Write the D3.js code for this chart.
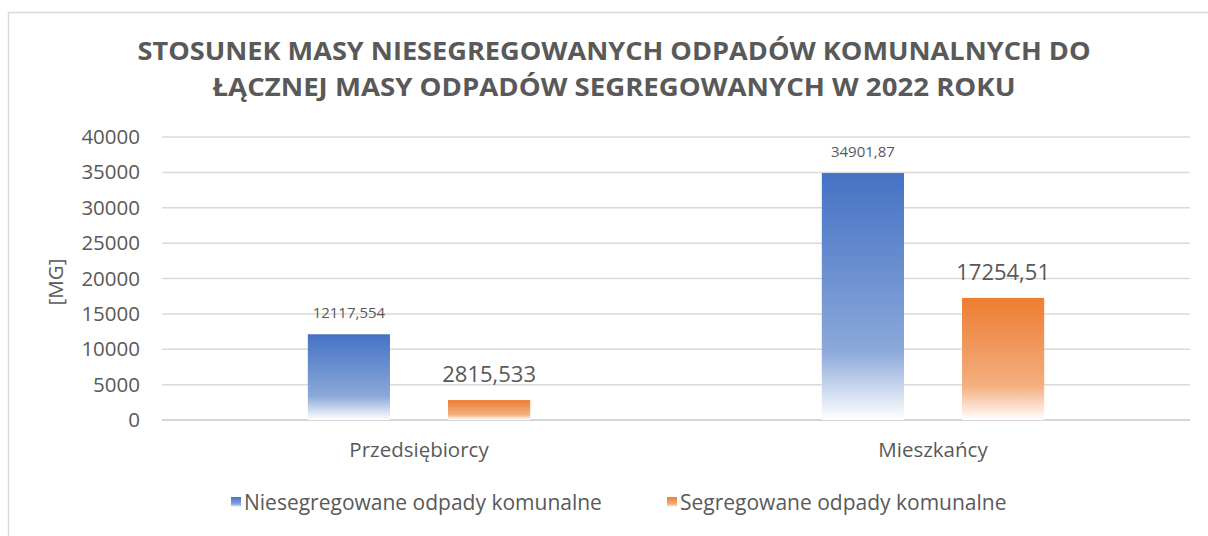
<!DOCTYPE html>
<html>
<head>
<meta charset="utf-8">
<script src="https://cdn.jsdelivr.net/npm/d3@7"></script>
<style>
  body { margin: 0; background: #fff; }
  text { font-family: "Open Sans", "Noto Sans", sans-serif; fill: #595959; }
</style>
</head>
<body>
<div class="chart"></div>
<script>
// data
const categories = ["Przedsiębiorcy", "Mieszkańcy"];
const seriesNames = ["Niesegregowane odpady komunalne", "Segregowane odpady komunalne"];
const unsegregated = [12117.554, 34901.87];
const segregated = [2815.533, 17254.51];
const unsegregatedLabels = ["12117,554", "34901,87"];
const segregatedLabels = ["2815,533", "17254,51"];
const yTicks = [0, 5000, 10000, 15000, 20000, 25000, 30000, 35000, 40000];
const titleLines = ["STOSUNEK MASY NIESEGREGOWANYCH ODPADÓW KOMUNALNYCH DO",
                    "ŁĄCZNEJ MASY ODPADÓW SEGREGOWANYCH W 2022 ROKU"];

const width = 1208, height = 536;
const margin = {left: 162, right: 18, top: 137, bottom: 116};

const svg = d3.select(".chart").append("svg")
    .attr("width", width)
    .attr("height", height);

// chart frame
svg.append("rect")
    .attr("x", 8.5).attr("y", 12.5)
    .attr("width", width + 20).attr("height", height + 20)
    .style("fill", "none")
    .style("stroke", "#d9d9d9")
    .style("stroke-width", 1.5);

const colors = ["#4472C4", "#ED7D31"];
const defs = svg.append("defs");
colors.forEach((c, i) => {
    const g = defs.append("linearGradient")
        .attr("id", "grad" + i)
        .attr("x1", 0).attr("y1", 0).attr("x2", 0).attr("y2", 1);
    const light = d3.interpolateRgb(c, "#ffffff")(0.38);
    g.append("stop").attr("offset", "0%").attr("stop-color", c);
    g.append("stop").attr("offset", "72%").attr("stop-color", light);
    g.append("stop").attr("offset", "100%").attr("stop-color", "#ffffff");
});

const yScale = d3.scaleLinear()
    .domain([0, 40000])
    .range([height - margin.bottom, margin.top]);

const xScale = d3.scaleBand()
    .domain(categories)
    .range([margin.left, width - margin.right]);

const xInner = d3.scaleBand()
    .domain([0, 1])
    .range([0, xScale.bandwidth()])
    .paddingInner(0.414)
    .paddingOuter(1.04);

// gridlines
svg.append("g")
    .selectAll("line")
    .data(yTicks)
    .join("line")
    .attr("x1", margin.left).attr("x2", width - margin.right)
    .attr("y1", d => yScale(d)).attr("y2", d => yScale(d))
    .style("stroke", d => d === 0 ? "#c8c8c8" : "#d9d9d9")
    .style("stroke-width", 1.5);

// y axis labels
const yAxis = d3.axisLeft(yScale).tickValues(yTicks).tickFormat(d3.format("d"))
    .tickSize(0).tickPadding(0);
const yg = svg.append("g")
    .attr("transform", "translate(" + 140 + ",0)")
    .call(yAxis);
yg.select(".domain").remove();
yg.selectAll("text")
    .style("font-size", "20.5px")
    .style("fill", "#595959");

// y axis title
svg.append("text")
    .attr("transform", "translate(56," + yScale(19500) + ") rotate(-90)")
    .attr("text-anchor", "middle")
    .attr("dy", "0.35em")
    .style("font-size", "20.5px")
    .text("[MG]");

// x axis labels
const xAxis = d3.axisBottom(xScale).tickSize(0).tickPadding(0);
const xg = svg.append("g")
    .attr("transform", "translate(0," + (yScale(0) + 22) + ")")
    .call(xAxis);
xg.select(".domain").remove();
xg.selectAll("text")
    .style("font-size", "20.5px")
    .style("fill", "#595959");

// bars
const series = [unsegregated, segregated];
const labels = [unsegregatedLabels, segregatedLabels];
const labelSize = ["15px", "22px"];
const labelGap = [16, 18];

series.forEach((vals, s) => {
    const g = svg.append("g");
    g.selectAll("rect")
        .data(vals)
        .join("rect")
        .attr("x", (d, i) => xScale(categories[i]) + xInner(s))
        .attr("y", d => yScale(d))
        .attr("width", xInner.bandwidth())
        .attr("height", d => yScale(0) - yScale(d))
        .style("fill", "url(#grad" + s + ")");

    g.selectAll("text")
        .data(vals)
        .join("text")
        .attr("x", (d, i) => xScale(categories[i]) + xInner(s) + xInner.bandwidth() / 2)
        .attr("y", d => yScale(d) - labelGap[s])
        .attr("text-anchor", "middle")
        .style("font-size", labelSize[s])
        .text((d, i) => labels[s][i]);
});

// title
svg.append("g")
    .selectAll("text")
    .data(titleLines)
    .join("text")
    .attr("x", 614)
    .attr("y", (d, i) => 60 + i * 36)
    .attr("text-anchor", "middle")
    .attr("textLength", (d, i) => i === 0 ? 953 : 803)
    .attr("lengthAdjust", "spacingAndGlyphs")
    .style("font-size", "25px")
    .style("font-weight", "bold")
    .text(d => d);

// legend
const legendX = [231, 667];
const legend = svg.append("g");
seriesNames.forEach((name, i) => {
    legend.append("rect")
        .attr("x", legendX[i]).attr("y", 497)
        .attr("width", 10).attr("height", 10)
        .style("fill", "url(#grad" + i + ")");
    legend.append("text")
        .attr("x", legendX[i] + 13)
        .attr("y", 503)
        .attr("dy", "0.35em")
        .style("font-size", "21px")
        .text(name);
});
</script>
</body>
</html>
